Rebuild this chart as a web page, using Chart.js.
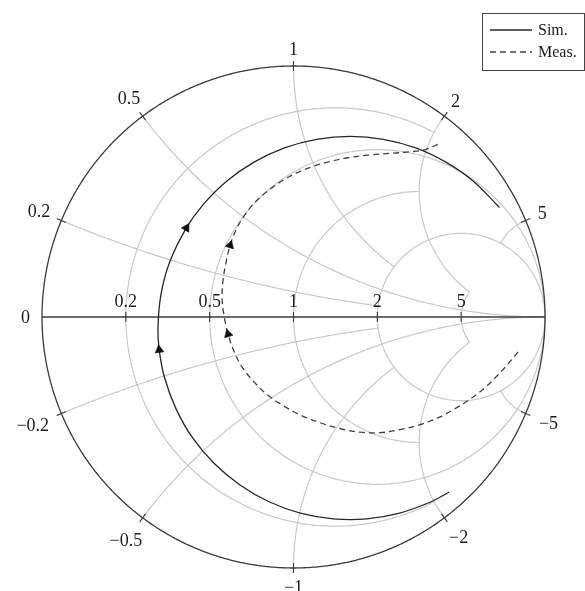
<!DOCTYPE html>
<html>
<head>
<meta charset="utf-8">
<script src="https://cdn.jsdelivr.net/npm/chart.js@4/dist/chart.umd.min.js"></script>
<style>
  html, body { margin: 0; padding: 0; background: #fff; }
  #c { display: block; }
</style>
</head>
<body>
<canvas id="c" width="585" height="591"></canvas>
<script>
// Smith chart grid: normalised resistance circles and reactance arcs
const resistanceValues = [0.2, 0.5, 1, 2, 5];
const reactanceValues = [0.2, 0.5, 1, 2, 5];
// where each grid line ends (value of the crossing family)
const resistanceStop = [2, Infinity, 2, Infinity, 2];
const reactanceStop = [2, Infinity, 2, 5, 2];

// Reflection coefficient traces, Re(Γ) and Im(Γ)
const simRe = [0.619, 0.547, 0.422, 0.291, 0.158, 0.027, -0.097, -0.213, -0.315, -0.401,
               -0.467, -0.513, -0.534, -0.539, -0.527, -0.493, -0.426, -0.360, -0.266, -0.157,
               -0.036, 0.092, 0.225, 0.357, 0.486, 0.606, 0.715, 0.819];
const simIm = [-0.697, -0.736, -0.781, -0.804, -0.804, -0.781, -0.736, -0.669, -0.584, -0.482,
               -0.366, -0.241, -0.131, -0.044, 0.089, 0.217, 0.355, 0.447, 0.541, 0.617,
               0.674, 0.708, 0.720, 0.708, 0.674, 0.617, 0.541, 0.436];
const measRe = [0.893, 0.853, 0.809, 0.761, 0.710, 0.654, 0.583, 0.503, 0.423, 0.344,
                0.264, 0.185, 0.105, 0.026, -0.046, -0.109, -0.161, -0.205, -0.237, -0.260,
                -0.276, -0.284, -0.280, -0.268, -0.252, -0.229, -0.197, -0.157, -0.109, -0.054,
                0.010, 0.078, 0.149, 0.225, 0.304, 0.384, 0.463, 0.527, 0.583];
const measIm = [-0.139, -0.187, -0.235, -0.282, -0.322, -0.358, -0.398, -0.429, -0.449, -0.461,
                -0.459, -0.445, -0.421, -0.390, -0.350, -0.306, -0.254, -0.199, -0.135, -0.068,
                0.004, 0.076, 0.147, 0.219, 0.286, 0.346, 0.402, 0.453, 0.497, 0.537,
                0.573, 0.600, 0.620, 0.636, 0.646, 0.652, 0.658, 0.668, 0.692];

// indices where direction arrows sit on each trace
const simArrowIdx = [12, 16];
const measArrowIdx = [19, 24];

const FONT = '"Liberation Serif", "Times New Roman", serif';

// complex division (a+jb)/(c+jd)
function cdiv(a, b, c, d) {
  const den = c * c + d * d;
  return [(a * c + b * d) / den, (b * c - a * d) / den];
}
// point on resistance circle r, parameter s = atan(x)
function rCircle(r, s) {
  const c = Math.cos(s), sn = Math.sin(s);
  return cdiv((r - 1) * c, sn, (r + 1) * c, sn);
}
// point on reactance arc x, parameter t = r/(1+r)
function xArc(x, t) {
  const im = x * (1 - t);
  return cdiv(2 * t - 1, im, 1, im);
}
function fmt(v) {
  return (v < 0 ? '\u2212' : '') + String(Math.abs(v));
}

function arrowAngle(ctx) {
  const d = ctx.dataset.data, i = ctx.dataIndex;
  const a = d[Math.max(0, i - 1)], b = d[Math.min(d.length - 1, i + 1)];
  return Math.atan2(b.x - a.x, b.y - a.y) * 180 / Math.PI;
}

const smithGrid = {
  id: 'smithGrid',
  beforeDatasetsDraw(chart) {
    const { ctx } = chart;
    const xs = chart.scales.x, ys = chart.scales.y;
    const P = g => [xs.getPixelForValue(g[0]), ys.getPixelForValue(g[1])];
    const poly = (fn, t0, t1, n = 400) => {
      ctx.beginPath();
      for (let k = 0; k <= n; k++) {
        const p = P(fn(t0 + (t1 - t0) * k / n));
        if (k) ctx.lineTo(p[0], p[1]); else ctx.moveTo(p[0], p[1]);
      }
      ctx.stroke();
    };
    ctx.save();
    ctx.lineCap = 'butt';
    ctx.strokeStyle = '#c9c9c9';
    ctx.lineWidth = 1.2;
    resistanceValues.forEach((r, i) => {
      const lim = resistanceStop[i];
      const s = isFinite(lim) ? Math.atan(lim) : Math.PI / 2;
      poly(t => rCircle(r, t), -s, s);
    });
    reactanceValues.forEach((xv, i) => {
      const lim = reactanceStop[i];
      const tmax = isFinite(lim) ? lim / (1 + lim) : 1;
      [xv, -xv].forEach(x => poly(t => xArc(x, t), 0, tmax));
    });

    // outer circle and real axis
    ctx.strokeStyle = '#3a3a3a';
    ctx.lineWidth = 1.3;
    poly(t => [Math.cos(t), Math.sin(t)], 0, 2 * Math.PI, 720);
    const L = P([-1, 0]), Rt = P([1, 0]);
    ctx.beginPath(); ctx.moveTo(L[0], L[1]); ctx.lineTo(Rt[0], Rt[1]); ctx.stroke();

    ctx.lineWidth = 1.1;
    ctx.fillStyle = '#1c1c1c';
    ctx.font = '18px ' + FONT;

    // ticks and labels on the real axis
    ctx.textAlign = 'center';
    ctx.textBaseline = 'alphabetic';
    resistanceValues.forEach(r => {
      const p = P([(r - 1) / (r + 1), 0]);
      ctx.beginPath(); ctx.moveTo(p[0], p[1] - 5); ctx.lineTo(p[0], p[1] + 5); ctx.stroke();
      ctx.fillText(fmt(r), p[0], p[1] - 10);
    });
    ctx.textAlign = 'right';
    ctx.textBaseline = 'middle';
    ctx.fillText('0', L[0] - 12, L[1] + 1);

    // ticks and labels on the rim
    ctx.textAlign = 'center';
    ctx.textBaseline = 'middle';
    const rim = [];
    reactanceValues.forEach(v => { rim.push(v); rim.push(-v); });
    rim.forEach(v => {
      const g = xArc(v, 0);
      const ux = g[0], uy = -g[1];
      const p = P(g);
      ctx.beginPath();
      ctx.moveTo(p[0] - ux * 5, p[1] - uy * 5);
      ctx.lineTo(p[0] + ux * 5, p[1] + uy * 5);
      ctx.stroke();
      const txt = fmt(v);
      const w = ctx.measureText(txt).width;
      const dist = 12 + Math.abs(ux) * w / 2 + Math.abs(uy) * 5 + (v < 0 ? 2 : 0);
      ctx.fillText(txt, p[0] + ux * dist, p[1] + uy * dist + 1);
    });
    ctx.restore();
  },
  afterDraw(chart) {
    const { ctx } = chart;
    ctx.save();
    // legend box
    ctx.strokeStyle = '#444';
    ctx.lineWidth = 1;
    ctx.strokeRect(482.5, 13.5, 102, 57);
    const rows = [30, 52];
    chart.data.datasets.forEach((ds, i) => {
      const y = rows[i];
      ctx.strokeStyle = ds.borderColor;
      ctx.lineWidth = ds.borderWidth;
      ctx.setLineDash(ds.borderDash || []);
      ctx.beginPath(); ctx.moveTo(490, y); ctx.lineTo(532, y); ctx.stroke();
      ctx.setLineDash([]);
      ctx.fillStyle = '#1c1c1c';
      ctx.font = '16px ' + FONT;
      ctx.textAlign = 'left';
      ctx.textBaseline = 'middle';
      ctx.fillText(ds.label, 538, y + 1);
    });
    ctx.restore();
  }
};

const toPts = (re, im) => re.map((x, i) => ({ x, y: im[i] }));

new Chart(document.getElementById('c'), {
  type: 'scatter',
  data: {
    datasets: [
      {
        label: 'Sim.',
        data: toPts(simRe, simIm),
        showLine: true,
        borderColor: '#262626',
        borderWidth: 1.3,
        tension: 0.4,
        pointStyle: 'triangle',
        pointRadius: c => simArrowIdx.includes(c.dataIndex) ? 5 : 0,
        pointRotation: arrowAngle,
        pointBackgroundColor: '#111',
        pointBorderColor: '#111',
        pointBorderWidth: 0.6
      },
      {
        label: 'Meas.',
        data: toPts(measRe, measIm),
        showLine: true,
        borderColor: '#404040',
        borderWidth: 1.3,
        borderDash: [6, 4],
        tension: 0.35,
        pointStyle: 'triangle',
        pointRadius: c => measArrowIdx.includes(c.dataIndex) ? 5 : 0,
        pointRotation: arrowAngle,
        pointBackgroundColor: '#111',
        pointBorderColor: '#111',
        pointBorderWidth: 0.6
      }
    ]
  },
  options: {
    responsive: false,
    animation: false,
    layout: { padding: { left: 42, right: 40, top: 66, bottom: 23 } },
    scales: {
      x: { type: 'linear', min: -1, max: 1, display: false },
      y: { type: 'linear', min: -1, max: 1, display: false }
    },
    plugins: {
      legend: { display: false },
      tooltip: { enabled: false }
    },
    events: []
  },
  plugins: [smithGrid]
});
</script>
</body>
</html>
